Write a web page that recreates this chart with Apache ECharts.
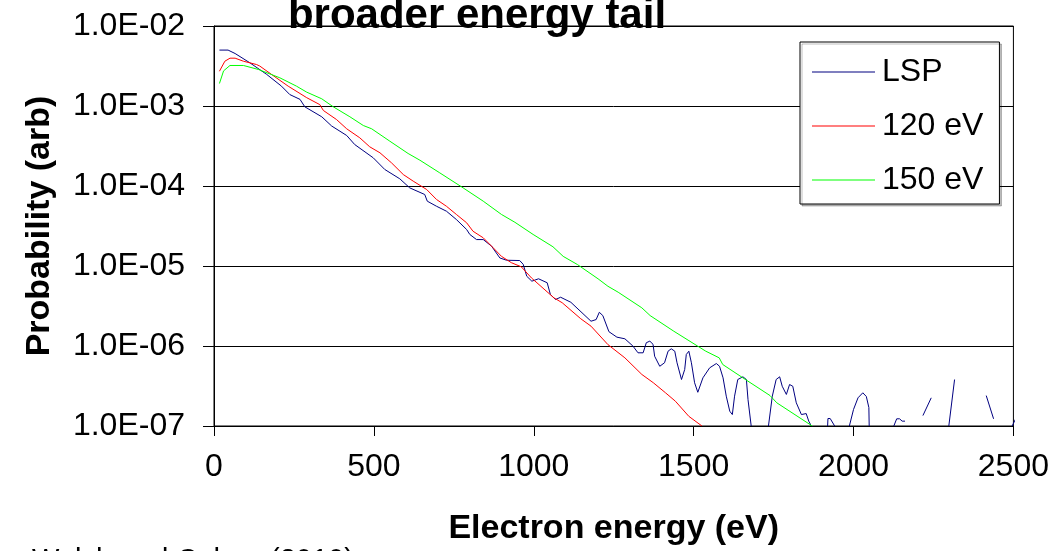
<!DOCTYPE html>
<html>
<head>
<meta charset="utf-8">
<script src="https://cdn.jsdelivr.net/npm/echarts@6/dist/echarts.min.js"></script>
<style>
  html, body { margin: 0; padding: 0; background: #fff; }
  #chart { width: 1052px; height: 551px; }
</style>
</head>
<body>
<div id="chart"></div>
<script>
// Series names shown in the legend
const seriesNames = ['LSP', '120 eV', '150 eV'];

// Y tick labels, one per decade from 1e-7 up to 1e-2
const yTickLabels = ['1.0E-07', '1.0E-06', '1.0E-05', '1.0E-04', '1.0E-03', '1.0E-02'];

// LSP simulated spectrum: energy (eV) and probability; null marks a gap
const lspEnergy = [17, 44, 66, 112, 165, 211, 237, 269, 284, 337, 368, 415, 440, 498, 534, 581, 612, 659, 667, 696,
  727, 758, 790, 800, 821, 842, 868, 894, 915, 956, 967, 978, 994, 1015, 1042, 1052, 1068, 1084, 1116, 1179,
  1195, 1205, 1216, 1235, 1260, 1285, 1310, 1326, 1342, 1352, 1363, 1373, 1378, 1394, 1409, 1420, 1430, 1441, 1448, 1462,
  1472, 1477, 1485, 1493, 1503, 1513, 1529, 1550, 1571, 1581, 1592, 1602, 1613, 1621, 1628, 1638, 1654, 1665, 1670, 1680,
  1705, 1734, 1746, 1758, 1769, 1777, 1790, 1800, 1810, 1821, 1837, 1852, 1860, 1868, 1890, 1919, 1920, 1927, 1941, 1965,
  1987, 2000, 2014, 2029, 2040, 2048, 2049, 2090, 2126, 2135, 2144, 2152, 2161, 2190, 2217, 2243, 2270, 2298, 2316, 2360,
  2415, 2438, 2470, 2496, 2510];
const lspProb = [5.0e-3, 5.0e-3, 4.53e-3, 3.47e-3, 2.48e-3, 1.77e-3, 1.39e-3, 1.21e-3, 9.77e-4, 7.33e-4, 5.62e-4, 4.28e-4, 3.30e-4, 2.25e-4, 1.61e-4, 1.23e-4, 9.48e-5, 7.83e-5, 6.46e-5, 5.58e-5,
  4.84e-5, 3.81e-5, 2.86e-5, 2.48e-5, 2.14e-5, 2.14e-5, 1.77e-5, 1.26e-5, 1.18e-5, 1.17e-5, 1.05e-5, 7.45e-6, 6.46e-6, 6.92e-6, 6.17e-6, 4.41e-6, 3.81e-6, 4.07e-6, 3.52e-6, 2.04e-6,
  2.14e-6, 2.64e-6, 2.40e-6, 1.51e-6, 1.29e-6, 1.23e-6, 1.0e-6, 8.22e-7, 8.22e-7, 1.10e-6, 1.15e-6, 1.05e-6, 7.45e-7, 5.58e-7, 6.17e-7, 8.61e-7, 9.23e-7, 8.61e-7, 6.17e-7, 3.81e-7,
  5.08e-7, 7.83e-7, 8.61e-7, 6.17e-7, 3.47e-7, 2.64e-7, 4.00e-7, 5.33e-7, 6.04e-7, 5.58e-7, 4.00e-7, 2.36e-7, 1.53e-7, 1.39e-7, 2.36e-7, 3.81e-7, 4.12e-7, 3.81e-7, 2.14e-7, 1.0e-7,
  null, 1.0e-7, 2.36e-7, 3.81e-7, 4.12e-7, 3.14e-7, 2.48e-7, 3.30e-7, 3.14e-7, 1.95e-7, 1.39e-7, 1.43e-7, 1.15e-7, 1.0e-7, null, 1.0e-7, 1.24e-7, 1.24e-7, 1.0e-7, null,
  1.0e-7, 1.61e-7, 2.25e-7, 2.60e-7, 2.34e-7, 1.70e-7, 1.0e-7, null, 1.0e-7, 1.23e-7, 1.23e-7, 1.15e-7, 1.15e-7, null, 1.35e-7, 2.25e-7, null, 1.0e-7, 3.81e-7, null,
  2.40e-7, 1.23e-7, null, 1.0e-7, 1.3e-7];

// Maxwellian spectrum with 120 eV temperature
const t120Energy = [17, 34, 50, 66, 92, 133, 143, 180, 232, 290, 331, 342, 383, 415, 456, 487, 519, 555, 592, 623,
  665, 696, 727, 758, 790, 810, 842, 873, 899, 930, 961, 993, 1063, 1089, 1147, 1179, 1232, 1285, 1338, 1374,
  1412, 1443, 1485, 1526];
const t120Prob = [2.72e-3, 3.63e-3, 3.96e-3, 3.96e-3, 3.63e-3, 3.30e-3, 3.16e-3, 2.48e-3, 1.77e-3, 1.27e-3, 1.04e-3, 8.79e-4, 6.78e-4, 5.19e-4, 4.00e-4, 3.09e-4, 2.60e-4, 1.95e-4, 1.39e-4, 1.15e-4,
  9.04e-5, 6.78e-5, 5.58e-5, 4.41e-5, 3.47e-5, 2.72e-5, 2.25e-5, 1.69e-5, 1.32e-5, 1.10e-5, 9.77e-6, 7.08e-6, 4.00e-6, 3.47e-6, 2.19e-6, 1.77e-6, 1.04e-6, 7.11e-7, 4.41e-7, 3.47e-7,
  2.60e-7, 2.04e-7, 1.32e-7, 1.0e-7];

// Maxwellian spectrum with 150 eV temperature
const t150Energy = [17, 30, 50, 92, 139, 206, 258, 290, 337, 373, 425, 467, 493, 550, 607, 644, 706, 779, 842, 899,
  941, 998, 1060, 1092, 1137, 1201, 1232, 1264, 1338, 1364, 1438, 1512, 1538, 1580, 1591, 1654, 1739, 1760, 1871];
const t150Prob = [1.91e-3, 2.75e-3, 3.21e-3, 3.21e-3, 2.86e-3, 2.25e-3, 1.77e-3, 1.49e-3, 1.23e-3, 9.77e-4, 7.33e-4, 5.70e-4, 5.19e-4, 3.63e-4, 2.55e-4, 2.10e-4, 1.46e-4, 9.48e-5, 6.46e-5, 4.41e-5,
  3.52e-5, 2.48e-5, 1.74e-5, 1.32e-5, 1.04e-5, 6.92e-6, 5.58e-6, 4.70e-6, 3.00e-6, 2.40e-6, 1.53e-6, 1.0e-6, 8.61e-7, 7.11e-7, 5.87e-7, 4.00e-7, 2.40e-7, 1.95e-7, 1.0e-7];

const seriesColors = ['#000080', '#ff0000', '#00ff00'];
const FONT = '"Liberation Sans", Arial, sans-serif';

function pairs(xs, ys) {
  return xs.map((x, i) => [x, ys[i] === null ? '-' : ys[i]]);
}

const chart = echarts.init(document.getElementById('chart'), null, { renderer: 'canvas' });

const datasets = [pairs(lspEnergy, lspProb), pairs(t120Energy, t120Prob), pairs(t150Energy, t150Prob)];

chart.setOption({
  animation: false,
  backgroundColor: '#fff',
  grid: {
    left: 214, top: 26, width: 800, height: 400,
    show: true, borderColor: '#000', borderWidth: 1, backgroundColor: 'transparent'
  },
  xAxis: {
    type: 'value', min: 0, max: 2500, interval: 500,
    name: 'Electron energy (eV)', nameLocation: 'middle', nameGap: 86,
    nameTextStyle: { fontFamily: FONT, fontSize: 34, fontWeight: 'bold', color: '#000' },
    axisLine: { onZero: false, lineStyle: { color: '#000', width: 1 } },
    axisTick: { show: true, length: 10, lineStyle: { color: '#000' } },
    axisLabel: { fontFamily: FONT, fontSize: 32, color: '#000', margin: 25, formatter: v => String(v) },
    splitLine: { show: false }
  },
  yAxis: {
    type: 'log', logBase: 10, min: 1e-7, max: 1e-2,
    name: 'Probability (arb)', nameLocation: 'middle', nameGap: 157, nameRotate: 90,
    nameTextStyle: { fontFamily: FONT, fontSize: 34, fontWeight: 'bold', color: '#000' },
    axisLine: { show: true, lineStyle: { color: '#000', width: 1 } },
    axisTick: { show: true, length: 11, lineStyle: { color: '#000' } },
    axisLabel: {
      fontFamily: FONT, fontSize: 32, color: '#000', margin: 29,
      formatter: v => yTickLabels[Math.round(Math.log10(v)) + 7]
    },
    splitLine: { show: true, lineStyle: { color: '#000', width: 1 } }
  },
  legend: {
    orient: 'vertical', left: 800, top: 42,
    padding: [14, 16, 8, 12],
    icon: 'rect', itemWidth: 63, itemHeight: 1.2, itemGap: 22,
    backgroundColor: '#fff', borderColor: '#000', borderWidth: 1,
    shadowColor: 'rgba(0,0,0,0.25)', shadowBlur: 0, shadowOffsetX: 2, shadowOffsetY: 2,
    textStyle: { fontFamily: FONT, fontSize: 32, color: '#000', lineHeight: 32, padding: [0, 0, 0, 2] },
    data: seriesNames
  },
  graphic: [
    {
      type: 'text', x: 477, y: 37, z: 100,
      style: {
        text: 'broader energy tail', fill: '#000',
        font: 'bold 42px ' + FONT, align: 'center', verticalAlign: 'bottom'
      }
    },
    {
      type: 'text', x: 32, y: 546, z: 100,
      style: {
        text: 'Welch and Cohen (2010)', fill: '#000',
        font: '29px ' + FONT, align: 'left', verticalAlign: 'top'
      }
    }
  ],
  series: seriesNames.map((name, i) => ({
    name, type: 'line', data: datasets[i],
    symbol: 'none', showSymbol: false, clip: true, connectNulls: false,
    lineStyle: { color: seriesColors[i], width: 1 },
    itemStyle: { color: seriesColors[i] }
  }))
});
</script>
</body>
</html>
